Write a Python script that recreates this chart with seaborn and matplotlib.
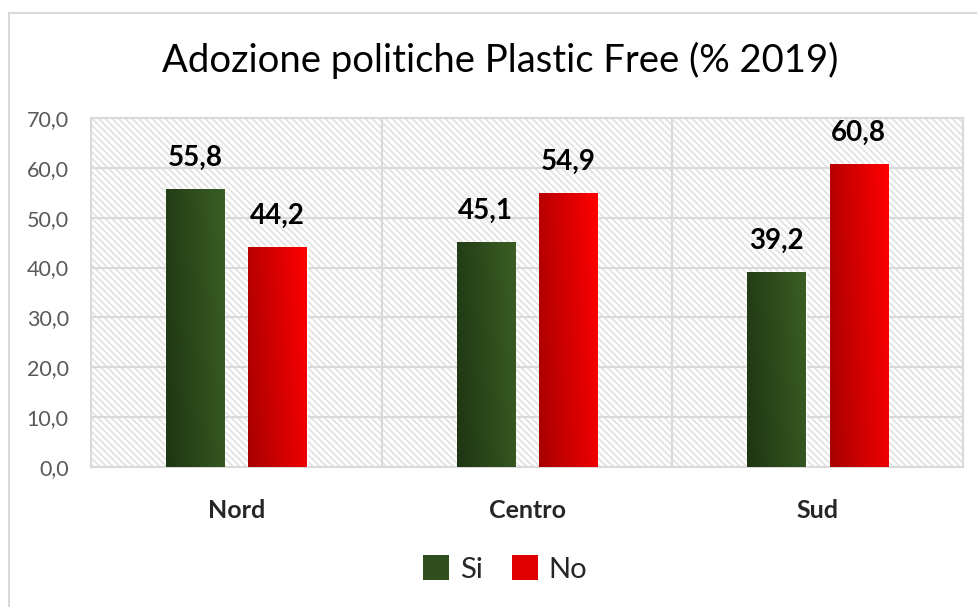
import numpy as np
import pandas as pd
import matplotlib
matplotlib.use("Agg")
import matplotlib.pyplot as plt
import seaborn as sns
from matplotlib.lines import Line2D
from matplotlib.patches import Patch
from matplotlib.ticker import FuncFormatter, MultipleLocator
from matplotlib.colors import LinearSegmentedColormap

categories = ["Nord", "Centro", "Sud"]
si_values = [55.8, 45.1, 39.2]
no_values = [44.2, 54.9, 60.8]
series = ["Si", "No"]
title = "Adozione politiche Plastic Free (% 2019)"

df = pd.DataFrame({
    "Area": categories * 2,
    "Risposta": ["Si"] * 3 + ["No"] * 3,
    "Valore": si_values + no_values,
})

sns.set_theme(style="white")
plt.rcParams["font.family"] = ["Lato", "DejaVu Sans"]
plt.rcParams["hatch.linewidth"] = 1.3

fig = plt.figure(figsize=(9.77, 6.07), dpi=100)
ax = fig.add_axes([91 / 977, 1 - 467 / 607, (963 - 91) / 977, (467 - 118) / 607])

palette = {"Si": "#2f4f1f", "No": "#e00000"}
sns.barplot(data=df, x="Area", y="Valore", hue="Risposta", order=categories,
            hue_order=series, palette=palette, width=0.566, gap=0.293,
            ax=ax, legend=False, zorder=3, saturation=1)

ax.set_xlim(-0.5, 2.5)
ax.set_ylim(0, 70)
ax.yaxis.set_major_locator(MultipleLocator(10))
ax.yaxis.set_major_formatter(FuncFormatter(lambda v, p: f"{v:.1f}".replace(".", ",")))

# hatched background
ax.patch.set_facecolor("white")
ax.patch.set_hatch("\\\\\\\\\\")
ax.patch.set_edgecolor("#e2e2e2")

ax.grid(axis="y", color="#d9d9d9", linewidth=1.5, zorder=1)
for xb in [0.5, 1.5]:
    ax.axvline(xb, color="#d9d9d9", linewidth=1.5, zorder=1)
for sp in ax.spines.values():
    sp.set_color("#d9d9d9")
    sp.set_linewidth(1.5)

ax.set_xlabel("")
ax.set_ylabel("")
ax.tick_params(axis="y", labelsize=15.5, labelcolor="#595959", length=0, pad=16)
ax.tick_params(axis="x", labelsize=18, length=0, pad=23)
for lab in ax.get_xticklabels():
    lab.set_fontweight("bold")

# gradient fills
grad_colors = {
    "Si": ("#1e3613", "#3a5e24"),
    "No": ("#a80000", "#ff0000"),
}
for cont, name in zip(ax.containers, series):
    cmap = LinearSegmentedColormap.from_list(name, grad_colors[name])
    for bar in cont:
        x0, y0 = bar.get_x(), bar.get_y()
        w, h = bar.get_width(), bar.get_height()
        xx, yy = np.meshgrid(np.linspace(0, 1, 64), np.linspace(0, 1, 64))
        g = np.clip(0.8 * xx + 0.2 * (1 - yy), 0, 1)
        im = ax.imshow(g, cmap=cmap, extent=[x0, x0 + w, y0, y0 + h],
                       origin="upper", aspect="auto", zorder=4, interpolation="bilinear")
        im.set_clip_path(bar)
    ax.bar_label(cont, labels=[f"{v:.1f}".replace(".", ",") for v in cont.datavalues],
                 padding=13, fontsize=20, fontweight="bold", color="black", zorder=5)
ax.set_xlim(-0.5, 2.5)
ax.set_ylim(0, 70)

fig.text(500 / 977, 1 - 60 / 607, title, ha="center", va="center", fontsize=27.5, color="black")

handles = [Patch(facecolor=palette[s], edgecolor="none") for s in series]
fig.legend(handles, series, loc="center", bbox_to_anchor=(505 / 977, 1 - 569 / 607),
           ncol=2, frameon=False, fontsize=21, handlelength=0.9, handleheight=0.9,
           columnspacing=1.0, handletextpad=0.35)

# outer chart border
fig.add_artist(Line2D([8.5 / 977, 8.5 / 977], [0, 1 - 12.5 / 607], transform=fig.transFigure,
                      color="#d9d9d9", linewidth=1.5))
fig.add_artist(Line2D([8.5 / 977, 1], [1 - 12.5 / 607, 1 - 12.5 / 607], transform=fig.transFigure,
                      color="#d9d9d9", linewidth=1.5))

fig.savefig("out.png", dpi=100)
